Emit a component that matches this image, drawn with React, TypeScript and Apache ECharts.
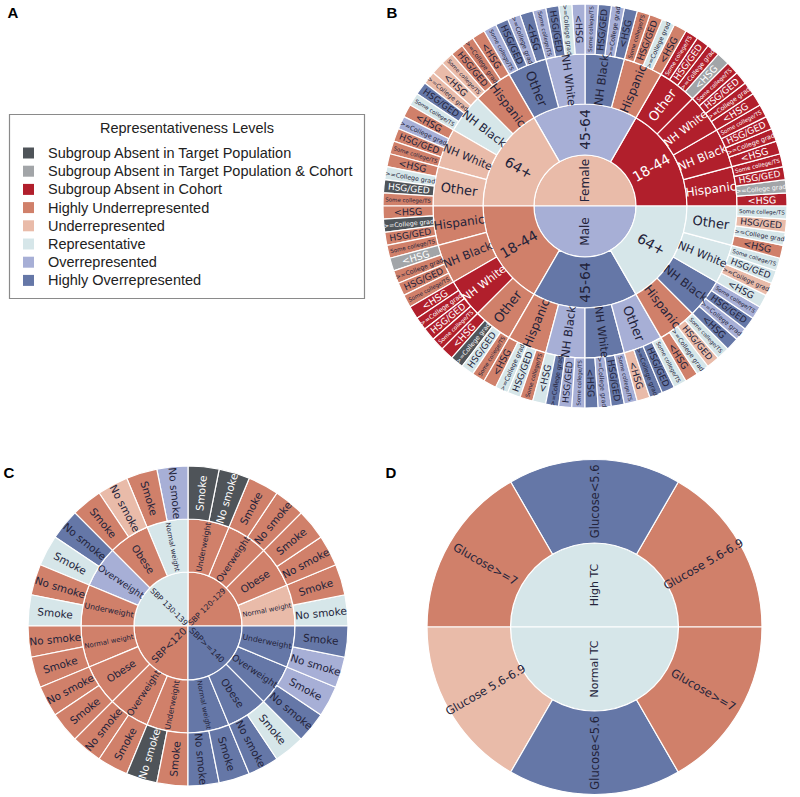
import React, { useEffect, useRef } from "react";
import * as echarts from "echarts";

// ---- Representativeness levels ----
const levelCodes = ["A", "G", "C", "HU", "U", "R", "O", "HO"];
const levelLabels = [
  "Subgroup Absent in Target Population",
  "Subgroup Absent in Target Population & Cohort",
  "Subgroup Absent in Cohort",
  "Highly Underrepresented",
  "Underrepresented",
  "Representative",
  "Overrepresented",
  "Highly Overrepresented",
];
const levelColors = ["#4f5459", "#a2a5a8", "#b11f2c", "#d0806a", "#e9bba9", "#d6e6e9", "#a7afd6", "#6577a7"];
const legendTitle = "Representativeness Levels";

// ---- Panel B (listed counter-clockwise from 3 o'clock) ----
const sexes = ["Female", "Male"];
const sexCodes = ["U", "O"];
const ageGroups = ["18-44", "45-64", "64+"];
const ageCodes = [
  ["C", "O", "U"],
  ["HU", "HO", "R"],
];
const races = ["Hispanic", "NH Black", "NH White", "Other"];
const raceCodes = [
  [
    ["C", "C", "C", "C"],
    ["HU", "HO", "O", "HO"],
    ["HU", "R", "U", "U"],
  ],
  [
    ["HU", "HU", "C", "HU"],
    ["HU", "O", "HO", "O"],
    ["HU", "HO", "R", "R"],
  ],
];
const educations = ["<HSG", ">=College grad", "HSG/GED", "Some college/TS"];
const eduCodes = [
  [
    [["C", "G", "C", "C"], ["C", "C", "C", "C"], ["C", "C", "C", "C"], ["G", "C", "C", "C"]],
    [["HU", "R", "HU", "HU"], ["HO", "O", "HO", "O"], ["O", "R", "HO", "O"], ["HO", "O", "HO", "O"]],
    [["HU", "HU", "HU", "U"], ["U", "U", "HO", "R"], ["HU", "O", "HU", "HU"], ["HU", "R", "A", "HU"]],
  ],
  [
    [["HU", "A", "HU", "HU"], ["G", "HU", "HU", "HU"], ["C", "C", "C", "C"], ["C", "A", "R", "HU"]],
    [["HU", "R", "R", "HU"], ["R", "HO", "O", "O"], ["HO", "O", "HO", "O"], ["U", "HO", "HO", "R"]],
    [["HU", "R", "U", "R"], ["HO", "O", "HO", "O"], ["R", "U", "R", "R"], ["HU", "R", "U", "R"]],
  ],
];

// ---- Panel C ----
const sbpGroups = ["SBP 120-129", "SBP 130-139", "SBP<120", "SBP>=140"];
const sbpCodes = ["HU", "R", "HU", "HO"];
const weights = ["Normal weight", "Obese", "Overweight", "Underweight"];
const weightCodes = [
  ["U", "HU", "HU", "HU"],
  ["R", "HU", "O", "HU"],
  ["HU", "HU", "HU", "HU"],
  ["HO", "HO", "HO", "HO"],
];
const smoking = ["No smoke", "Smoke"];
const smokeCodes = [
  [["R", "HU"], ["HU", "HU"], ["HU", "HU"], ["A", "A"]],
  [["O", "HU"], ["U", "HU"], ["HO", "R"], ["HU", "R"]],
  [["HU", "HU"], ["HU", "HU"], ["HU", "HU"], ["A", "HU"]],
  [["HO", "HO"], ["HO", "R"], ["HO", "O"], ["O", "HO"]],
];

// ---- Panel D ----
const tcGroups = ["High TC", "Normal TC"];
const tcCodes = ["R", "R"];
const glucose = ["Glucose 5.6-6.9", "Glucose<5.6", "Glucose>=7"];
const glucoseCodes = [
  ["HU", "HO", "HU"],
  ["U", "HO", "HU"],
];

// ---- helpers ----
const colorOf = (code: string) => levelColors[levelCodes.indexOf(code)];
const textOf = (code: string) => (code === "A" || code === "G" || code === "C" ? "#ffffff" : "#23233a");

function makeNode(name: string, code: string, fontSize: number, children?: any[], rotate?: number) {
  const n: any = {
    name,
    itemStyle: { color: colorOf(code) },
    label: { fontSize, color: textOf(code) },
  };
  if (rotate !== undefined) n.label.rotate = rotate;
  if (children) n.children = children;
  else n.value = 1;
  return n;
}

const eduFont = [9.5, 6.3, 9, 5.5];
const raceFont = [12, 11.5, 11, 13];

const dataB = sexes.map((s, si) =>
  makeNode(
    s,
    sexCodes[si],
    12,
    ageGroups.map((a, ai) =>
      makeNode(
        a,
        ageCodes[si][ai],
        14,
        races.map((r, ri) =>
          makeNode(
            r,
            raceCodes[si][ai][ri],
            raceFont[ri],
            educations.map((e, ei) => makeNode(e, eduCodes[si][ai][ri][ei], eduFont[ei]))
          )
        ),
        si === 1 && ai === 1 ? 90 : undefined
      )
    ),
    si === 1 ? 90 : undefined
  )
);

const weightFont = [6.8, 10.3, 9.2, 7.8];
const sbpFont = [7.7, 7.7, 9.6, 8.3];
const dataC = sbpGroups.map((g, gi) =>
  makeNode(
    g,
    sbpCodes[gi],
    sbpFont[gi],
    weights.map((w, wi) =>
      makeNode(
        w,
        weightCodes[gi][wi],
        weightFont[wi],
        smoking.map((s, k) => makeNode(s, smokeCodes[gi][wi][k], 10.5))
      )
    )
  )
);

const dataD = tcGroups.map((t, ti) =>
  makeNode(
    t,
    tcCodes[ti],
    11,
    glucose.map((g, gi) => makeNode(g, glucoseCodes[ti][gi], 11.5, undefined, ti === 1 && gi === 1 ? 90 : undefined)),
    ti === 1 ? 90 : undefined
  )
);

function sunburst(center: number[], radii: number[], data: any[]) {
  const levels: any[] = [{}];
  for (let i = 0; i < radii.length - 1; i++) levels.push({ r0: radii[i], r: radii[i + 1] });
  return {
    type: "sunburst",
    center,
    radius: [0, radii[radii.length - 1]],
    startAngle: 0,
    clockwise: false,
    sort: null,
    nodeClick: false,
    data,
    levels,
    itemStyle: { borderColor: "#ffffff", borderWidth: 1.2 },
    label: { rotate: "radial", fontFamily: "DejaVu Sans", align: "center" },
    emphasis: { disabled: true },
  };
}

export default function App() {
  const ref = useRef<HTMLDivElement>(null);
  useEffect(() => {
    document.body.style.margin = "0";
    const chart = echarts.init(ref.current!, undefined, { renderer: "svg" });
    const legendItems: any[] = [];
    levelLabels.forEach((lab, i) => {
      const cy = 153 + i * 18.2;
      legendItems.push({
        type: "rect",
        shape: { x: 23, y: cy - 5.5, width: 11, height: 11 },
        style: { fill: levelColors[i] },
      });
      legendItems.push({
        type: "text",
        x: 48,
        y: cy,
        style: {
          text: lab,
          fontFamily: "Liberation Sans",
          fontSize: 14.5,
          fill: "#222",
          verticalAlign: "middle",
          align: "left",
        },
      });
    });
    const letter = (t: string, x: number, y: number) => ({
      type: "text",
      x,
      y,
      style: {
        text: t,
        fontFamily: "Liberation Sans",
        fontWeight: "bold",
        fontSize: 15,
        fill: "#000",
        align: "center",
        verticalAlign: "middle",
      },
    });
    chart.setOption({
      animation: false,
      graphic: [
        {
          type: "rect",
          shape: { x: 9.5, y: 114.5, width: 355, height: 184 },
          style: { fill: "#fff", stroke: "#8a8a8a", lineWidth: 1.2 },
        },
        {
          type: "text",
          x: 187,
          y: 128,
          style: {
            text: legendTitle,
            fontFamily: "Liberation Sans",
            fontSize: 14.5,
            fill: "#222",
            align: "center",
            verticalAlign: "middle",
          },
        },
        ...legendItems,
        letter("A", 13, 12),
        letter("B", 392, 12),
        letter("C", 9, 472),
        letter("D", 391, 472),
      ],
      series: [
        sunburst([585, 206], [0, 51, 102, 152, 202], dataB),
        sunburst([188, 626], [0, 54, 107, 160], dataC),
        sunburst([594.5, 627], [0, 84, 167.5], dataD),
      ],
    });
    return () => chart.dispose();
  }, []);
  return <div ref={ref} style={{ width: 800, height: 797 }} />;
}
